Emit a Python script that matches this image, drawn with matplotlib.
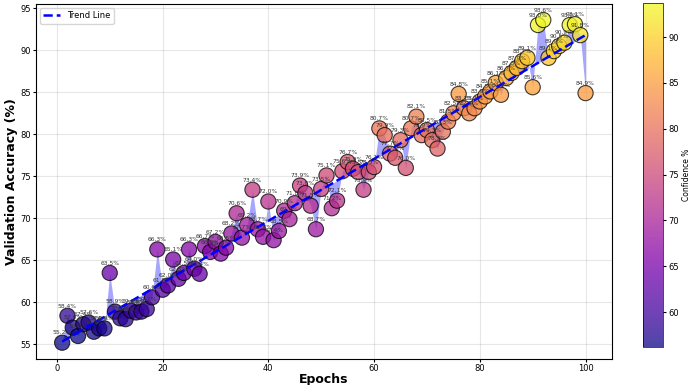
import numpy as np
import matplotlib.pyplot as plt

# --------------------------------------------------
# Data
# --------------------------------------------------
epochs = np.arange(1, 101)

accuracy = [
    55.2, 58.4, 57.0, 56.0, 57.4, 57.6, 56.5, 56.9, 56.9, 63.5,
    58.9, 58.1, 58.0, 59.0, 58.8, 58.9, 59.2, 60.6, 66.3, 61.5,
    62.0, 65.1, 62.8, 63.5, 66.3, 64.0, 63.4, 66.7, 66.0, 67.2,
    65.8, 66.5, 68.2, 70.6, 67.7, 69.2, 73.4, 68.7, 67.8, 72.0,
    67.4, 68.5, 70.9, 69.9, 71.8, 73.9, 73.0, 71.5, 68.7, 73.5,
    75.1, 71.2, 72.1, 75.6, 76.7, 75.9, 75.5, 73.4, 75.5, 76.1,
    80.7, 79.9, 77.7, 77.2, 79.3, 76.0, 80.7, 82.1, 79.9, 80.5,
    79.3, 78.3, 80.3, 81.5, 82.5, 84.8, 83.1, 82.5, 83.1, 83.9,
    84.5, 85.1, 86.1, 84.7, 86.7, 87.3, 87.9, 88.7, 89.1, 85.6,
    93.0, 93.6, 89.1, 89.9, 90.5, 90.9, 93.0, 93.1, 91.8, 84.9,
]
accuracy = np.array(accuracy)

# colour scale shown on the colorbar
conf_min, conf_max = 56.2, 93.7

# --------------------------------------------------
# Linear trend through the points
# --------------------------------------------------
coef = np.polyfit(epochs, accuracy, 1)
trend = np.polyval(coef, epochs)

# --------------------------------------------------
# Plot
# --------------------------------------------------
fig = plt.figure(figsize=(6.92, 3.85), dpi=100)
ax = fig.add_axes([0.052, 0.068, 0.832, 0.922])
cax = fig.add_axes([0.929, 0.099, 0.029, 0.893])

# shaded gap between each point and the trend
ax.fill_between(epochs, accuracy, trend, color='blue', alpha=0.35, linewidth=0)

sc = ax.scatter(
    epochs,
    accuracy,
    c=accuracy,
    cmap='plasma',
    vmin=conf_min,
    vmax=conf_max,
    s=120,
    alpha=0.75,
    edgecolors='black',
    linewidths=0.8,
    zorder=3
)

ax.plot(epochs, trend, '--', color='blue', linewidth=1.8, label='Trend Line', zorder=4)

# value labels above every point
for e, v in zip(epochs, accuracy):
    ax.annotate(f'{v:.1f}%', (e, v), xytext=(0, 7), textcoords='offset points',
                ha='center', va='center', fontsize=4.3, color='#333333', zorder=5)

ax.set_xlabel('Epochs', fontsize=9, fontweight='bold', labelpad=0)
ax.set_ylabel('Validation Accuracy (%)', fontsize=9, fontweight='bold', labelpad=2)
ax.tick_params(labelsize=6, length=2, pad=1.5)
ax.grid(True, alpha=0.3)
ax.legend(loc='upper left', fontsize=6, handlelength=2, borderpad=0.4)

cb = fig.colorbar(sc, cax=cax)
cb.set_label('Confidence %', fontsize=5.5, labelpad=2)
cb.ax.tick_params(labelsize=6, length=2, pad=2)
cb.outline.set_linewidth(0.5)

fig.savefig('out.png', dpi=100)
